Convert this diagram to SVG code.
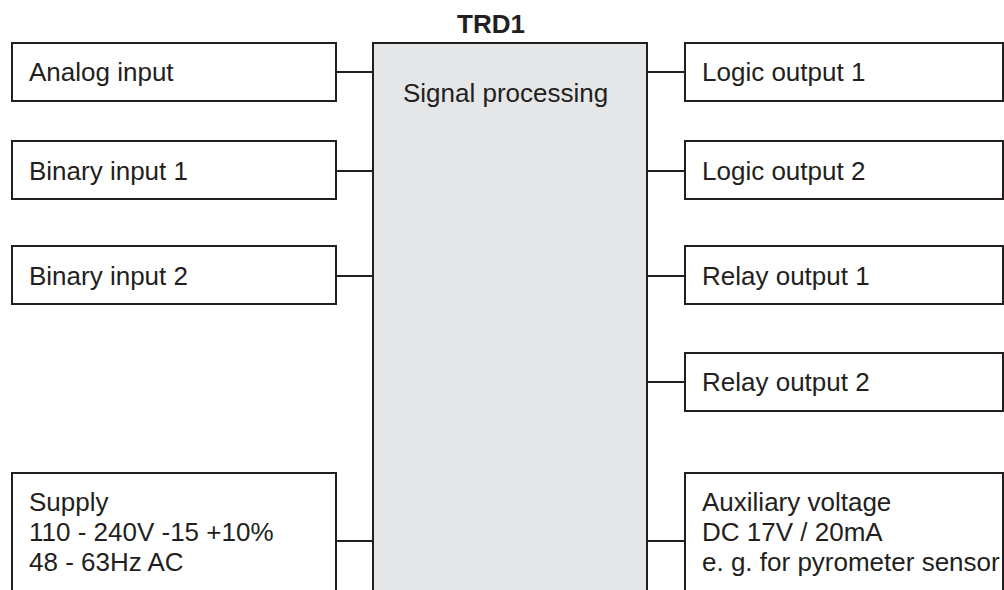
<svg xmlns="http://www.w3.org/2000/svg" width="1004" height="590" viewBox="0 0 1004 590">
<style>
.box{fill:#ffffff;stroke:#231f20;stroke-width:2}
.core{fill:#e5e6e8;stroke:#231f20;stroke-width:2}
.t{font-family:"Liberation Sans",Arial,sans-serif;font-size:26px;fill:#231f20}
.b{font-weight:bold}
.c line{stroke:#231f20;stroke-width:2}
</style>
<rect width="1004" height="590" fill="#ffffff"/>
<g id="connectors" class="c">
<line x1="336" y1="72" x2="373" y2="72"/>
<line x1="336" y1="171" x2="373" y2="171"/>
<line x1="336" y1="276" x2="373" y2="276"/>
<line x1="336" y1="541" x2="373" y2="541"/>
<line x1="647" y1="72" x2="685" y2="72"/>
<line x1="647" y1="171" x2="685" y2="171"/>
<line x1="647" y1="276" x2="685" y2="276"/>
<line x1="647" y1="382" x2="685" y2="382"/>
<line x1="647" y1="541" x2="685" y2="541"/>
</g>
<g id="trd1">
<rect class="core" x="373" y="43" width="274" height="560"/>
<text class="t b" x="491" y="33" text-anchor="middle">TRD1</text>
<text class="t" x="403" y="102">Signal processing</text>
</g>
<g id="analog-input">
<rect class="box" x="12" y="43" width="324" height="58"/>
<text class="t" x="29" y="81">Analog input</text>
</g>
<g id="binary-input-1">
<rect class="box" x="12" y="141" width="324" height="58"/>
<text class="t" x="29" y="180">Binary input 1</text>
</g>
<g id="binary-input-2">
<rect class="box" x="12" y="246" width="324" height="58"/>
<text class="t" x="29" y="285">Binary input 2</text>
</g>
<g id="supply">
<rect class="box" x="12" y="473" width="324" height="130"/>
<text class="t" x="29" y="511">Supply</text>
<text class="t" x="29" y="541">110 - 240V -15 +10%</text>
<text class="t" x="29" y="571">48 - 63Hz AC</text>
</g>
<g id="logic-output-1">
<rect class="box" x="685" y="43" width="318" height="58"/>
<text class="t" x="702" y="81">Logic output 1</text>
</g>
<g id="logic-output-2">
<rect class="box" x="685" y="141" width="318" height="58"/>
<text class="t" x="702" y="180">Logic output 2</text>
</g>
<g id="relay-output-1">
<rect class="box" x="685" y="246" width="318" height="58"/>
<text class="t" x="702" y="285">Relay output 1</text>
</g>
<g id="relay-output-2">
<rect class="box" x="685" y="353" width="318" height="58"/>
<text class="t" x="702" y="391">Relay output 2</text>
</g>
<g id="auxiliary-voltage">
<rect class="box" x="685" y="473" width="318" height="130"/>
<text class="t" x="702" y="511">Auxiliary voltage</text>
<text class="t" x="702" y="541">DC 17V / 20mA</text>
<text class="t" x="702" y="571">e. g. for pyrometer sensor</text>
</g>
</svg>
